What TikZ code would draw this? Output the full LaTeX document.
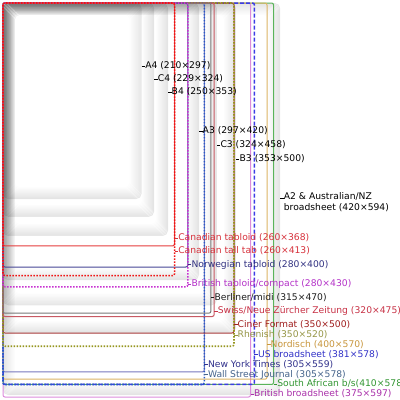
\documentclass[tikz,border=0pt]{standalone}
\usepackage{fontspec}
\setmainfont{DejaVu Sans}
\definecolor{canr}{RGB}{230,60,60}
\definecolor{cantt}{RGB}{240,20,20}
\definecolor{canlbl}{RGB}{215,50,60}
\definecolor{norw}{RGB}{70,70,150}
\definecolor{norwlbl}{RGB}{50,50,130}
\definecolor{brtab}{RGB}{200,50,210}
\definecolor{brtablbl}{RGB}{180,50,200}
\definecolor{berl}{RGB}{120,120,120}
\definecolor{berllbl}{RGB}{30,30,30}
\definecolor{swiss}{RGB}{200,90,100}
\definecolor{swisslbl}{RGB}{200,50,70}
\definecolor{ciner}{RGB}{170,60,60}
\definecolor{cinerlbl}{RGB}{160,30,30}
\definecolor{rhen}{RGB}{150,150,30}
\definecolor{rhenlbl}{RGB}{150,150,70}
\definecolor{nord}{RGB}{220,180,100}
\definecolor{nordlbl}{RGB}{200,150,60}
\definecolor{usb}{RGB}{60,60,230}
\definecolor{uslbl}{RGB}{50,50,200}
\definecolor{nyt}{RGB}{120,120,190}
\definecolor{nytlbl}{RGB}{50,50,140}
\definecolor{wsj}{RGB}{40,90,200}
\definecolor{wsjlbl}{RGB}{70,100,140}
\definecolor{saf}{RGB}{90,180,90}
\definecolor{saflbl}{RGB}{50,150,50}
\definecolor{brbs}{RGB}{220,140,220}
\definecolor{brbslbl}{RGB}{170,50,170}
\pgfmathsetmacro\pscale{0.66}
\tikzset{
  fmtline/.style={line width=1pt, rounded corners=2pt},
  fmtdot/.style={line width=1.6pt, rounded corners=2pt, dash pattern=on 1.5pt off 1.5pt},
  fmtdash/.style={line width=1.5pt, rounded corners=2pt, dash pattern=on 4pt off 2pt},
  lbl/.style={anchor=west, inner sep=0pt, font=\fontsize{9.2}{10.5}\selectfont},
  tick/.style={line width=0.8pt}
}
% paper with inner soft shadow
\newcommand\paper[2]{%
  \foreach \k in {0,...,11}{%
    \pgfmathsetmacro\op{0.095*(1-\k/12)}%
    \draw[black,opacity=\op,line width=1pt,rounded corners=5pt]
      ({3.5+\k},{3.5+\k}) rectangle ({3+\pscale*#1-0.5-\k},{3+\pscale*#2-0.5-\k});
  }%
}
\newcommand\fmtbox[3]{%
  \draw[#3] (3,3) rectangle ({3+\pscale*#1},{3+\pscale*#2});
}
% name, width(mm), label y, colour, text
\newcommand\fmtlabel[5]{%
  \coordinate (#1e) at ({3+\pscale*#2},#3);
  \node[lbl, text=#4] (#1) at ({6.5+\pscale*#2},#3) {#5};
  \draw[tick,#4] (#1e) -- (#1.west);
}
\begin{document}
\begin{tikzpicture}[x=1pt,y=-1pt]
\useasboundingbox[fill=white] (0,0) rectangle (400,400);
% papers (ISO A, B, C series)
\paper{420}{594}
\paper{353}{500}
\paper{324}{458}
\paper{297}{420}
\paper{250}{353}
\paper{229}{324}
\paper{210}{297}
% newspaper formats
\fmtbox{375}{597}{fmtline, brbs}
\fmtbox{410}{578}{fmtline, saf}
\fmtbox{400}{570}{fmtline, nord}
\fmtbox{381}{578}{fmtdash, usb}
\fmtbox{305}{559}{fmtline, nyt}
\fmtbox{305}{578}{fmtdot, wsj}
\fmtbox{350}{500}{fmtline, ciner}
\fmtbox{350}{520}{fmtdot, rhen}
\fmtbox{320}{475}{fmtline, swiss}
\fmtbox{315}{470}{fmtline, berl}
\fmtbox{280}{400}{fmtline, norw}
\fmtbox{280}{430}{fmtdot, brtab}
\fmtbox{260}{368}{fmtline, canr}
\fmtbox{260}{413}{fmtdot, cantt}
% labels
\fmtlabel{a4}{210}{66}{black}{A4 (210×297)}
\fmtlabel{c4}{229}{79}{black}{C4 (229×324)}
\fmtlabel{b4}{250}{92}{black}{B4 (250×353)}
\fmtlabel{a3}{297}{131}{black}{A3 (297×420)}
\fmtlabel{c3}{324}{145}{black}{C3 (324×458)}
\fmtlabel{b3}{353}{159}{black}{B3 (353×500)}
\coordinate (a2e) at ({3+\pscale*420},198);
\node[lbl, anchor=north west, align=left, text=black] (a2) at ({6.5+\pscale*420},192.5) {A2 \& Australian/NZ\\broadsheet (420×594)};
\draw[tick,black] (a2e) -- (a2e -| a2.west);
\fmtlabel{cant}{260}{238}{canlbl}{Canadian tabloid (260×368)}
\fmtlabel{cantt}{260}{251}{canlbl}{Canadian tall tab (260×413)}
\fmtlabel{norw}{280}{264.5}{norwlbl}{Norwegian tabloid (280×400)}
\fmtlabel{brtab}{280}{284}{brtablbl}{British tabloid/compact (280×430)}
\fmtlabel{berl}{315}{297.5}{berllbl}{Berliner/midi (315×470)}
\fmtlabel{swiss}{320}{311}{swisslbl}{Swiss/Neue Zürcher Zeitung (320×475)}
\fmtlabel{ciner}{350}{324.5}{cinerlbl}{Ciner Format (350×500)}
\fmtlabel{rhen}{350}{335}{rhenlbl}{Rhenish (350×520)}
\fmtlabel{nord}{400}{344.5}{nordlbl}{Nordisch (400×570)}
\fmtlabel{us}{381}{354.5}{uslbl}{US broadsheet (381×578)}
\fmtlabel{nyt}{305}{364.5}{nytlbl}{New York Times (305×559)}
\fmtlabel{wsj}{305}{374.5}{wsjlbl}{Wall Street Journal (305×578)}
\fmtlabel{saf}{410}{384}{saflbl}{South African b/s(410×578)}
\fmtlabel{brbs}{375}{394}{brbslbl}{British broadsheet (375×597)}
\end{tikzpicture}
\end{document}
